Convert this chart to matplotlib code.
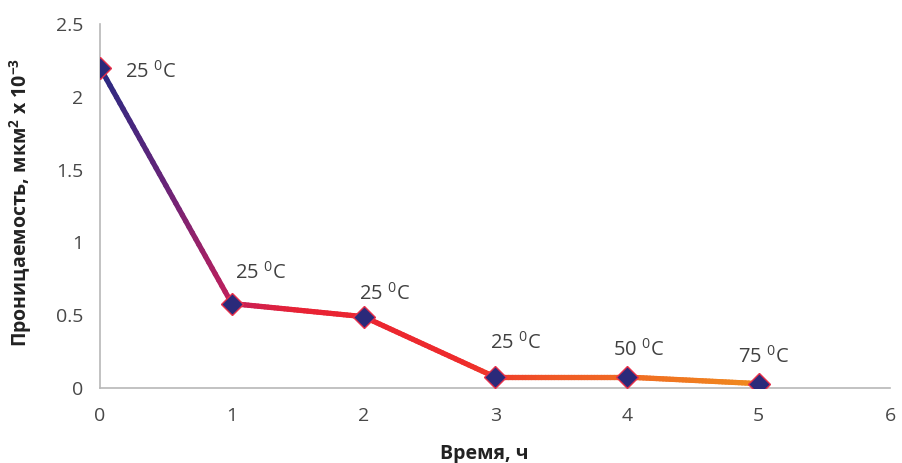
import numpy as np
import matplotlib
matplotlib.use('Agg')
import matplotlib.pyplot as plt
from matplotlib.collections import LineCollection
from matplotlib.colors import LinearSegmentedColormap

plt.rcParams['font.family'] = ['Open Sans', 'DejaVu Sans']
plt.rcParams['mathtext.fontset'] = 'custom'
plt.rcParams['mathtext.rm'] = 'Open Sans'
plt.rcParams['mathtext.bf'] = 'Open Sans:bold'

hours = [0, 1, 2, 3, 4, 5]
perm = [2.2, 0.58, 0.49, 0.075, 0.075, 0.03]
temps = ['25', '25', '25', '25', '50', '75']
label_offsets = [(25, -4), (3, 31), (-5, 23), (-5, 34), (-14, 27), (-21, 27)]

line_cmap = LinearSegmentedColormap.from_list(
    'perm_line',
    [(0.0, '#2a2a82'), (0.1, '#6a2478'), (0.2, '#c41f5a'),
     (0.3, '#e82234'), (0.55, '#ee2b2c'), (0.7, '#f05a25'), (1.0, '#f08a1e')])

fig = plt.figure(figsize=(9.02, 4.63), dpi=100)
ax = fig.add_axes([0.111, 0.162, 0.876, 0.786])

# colour-graded polyline: split every segment into short pieces
pts_x, pts_y = [], []
for i in range(len(hours) - 1):
    t = np.linspace(0, 1, 40, endpoint=False)
    pts_x.extend(hours[i] + (hours[i + 1] - hours[i]) * t)
    pts_y.extend(perm[i] + (perm[i + 1] - perm[i]) * t)
pts_x.append(hours[-1])
pts_y.append(perm[-1])
pts = np.column_stack([pts_x, pts_y]).reshape(-1, 1, 2)
segs = np.concatenate([pts[:-1], pts[1:]], axis=1)
lc = LineCollection(segs, cmap=line_cmap, linewidths=3.8, capstyle='round')
lc.set_array(np.array(pts_x[:-1]) / hours[-1])
ax.add_collection(lc)

ax.plot(hours, perm, linestyle='none', marker='D', markersize=11,
        markerfacecolor='#2b2a7a', markeredgecolor='#e8304a',
        markeredgewidth=1.0, zorder=3)

for x, y, t, off in zip(hours, perm, temps, label_offsets):
    ax.annotate(f'{t} $^{{0}}$C', (x, y), xytext=off, textcoords='offset pixels',
                ha='left', va='center', fontsize=14.5, color='#404040')

ax.set_xlim(0, 6)
ax.set_ylim(0, 2.5)
ax.set_xticks(range(0, 7))
ax.set_yticks([0, 0.5, 1, 1.5, 2, 2.5])
ax.set_yticklabels(['0', '0.5', '1', '1.5', '2', '2.5'])
ax.tick_params(length=0, labelsize=14, labelcolor='#484848')
ax.tick_params(axis='x', pad=14)
ax.tick_params(axis='y', pad=12)

for side in ('top', 'right'):
    ax.spines[side].set_visible(False)
for side in ('left', 'bottom'):
    ax.spines[side].set_color('#b8b8b8')
    ax.spines[side].set_linewidth(1.2)

ax.set_xlabel('Время, ч', fontsize=14, fontweight='bold', color='#222222')
ax.xaxis.set_label_coords(0.486, -0.155)
ax.set_ylabel('Проницаемость, мкм$\\mathbf{^{2}}$ x 10$\\mathbf{^{-3}}$',
              fontsize=14, fontweight='bold', color='#222222')
ax.yaxis.set_label_coords(-0.084, 0.51)

fig.savefig('out.png', dpi=100)
